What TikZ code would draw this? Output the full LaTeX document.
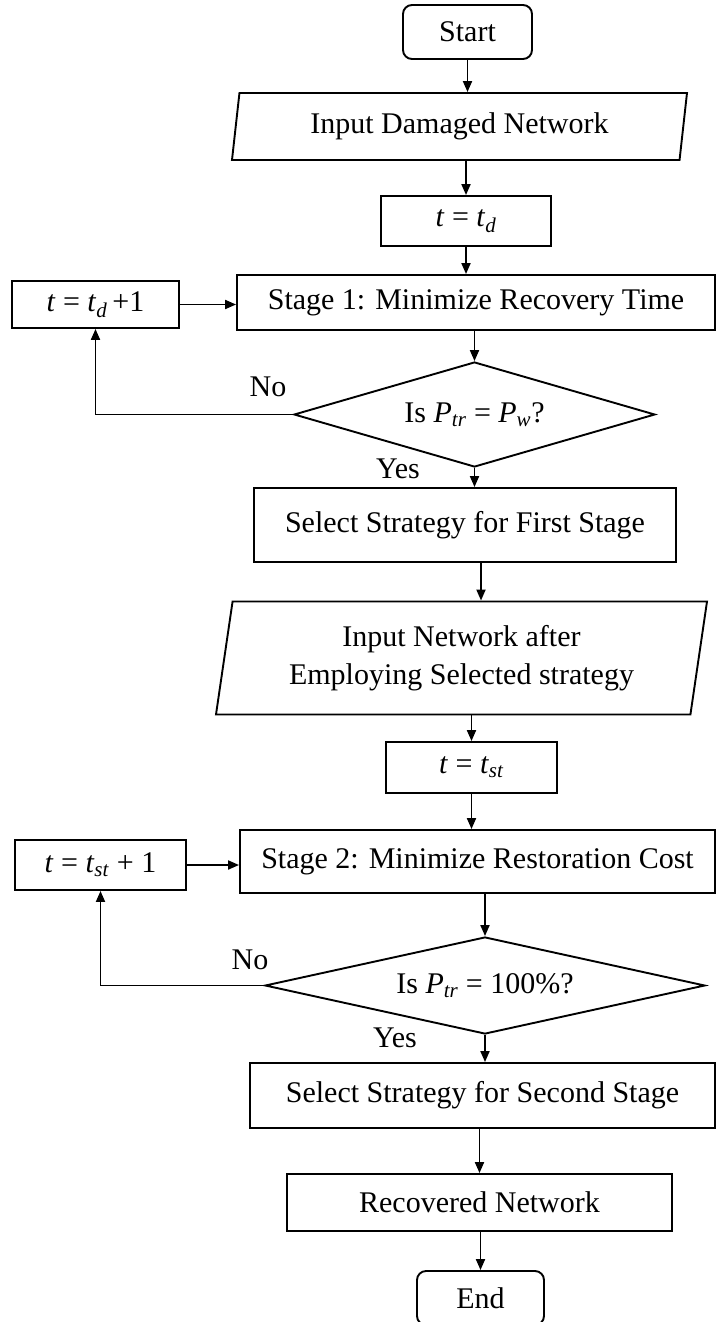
\documentclass[tikz,border=0pt]{standalone}
\usepackage{fontspec}
\setmainfont{Liberation Serif}
\usetikzlibrary{shapes.geometric,arrows.meta}
\newcommand\itv[1]{\textit{#1}}
\newcommand\ssb[1]{\textsubscript{\textit{#1}}}
\begin{document}
\begin{tikzpicture}[x=1pt,y=-1pt,
  every node/.style={font=\fontsize{30}{38}\selectfont},
  box/.style={draw,line width=1.9pt,rectangle,inner sep=2pt,align=center},
  term/.style={box,rounded corners=9pt},
  io/.style={draw,line width=1.9pt,trapezium,trapezium left angle=76.6,trapezium right angle=103.4,trapezium stretches body,inner sep=2pt,align=center},
  dec/.style={draw,line width=1.9pt,diamond,inner sep=0pt},
  lbl/.style={inner sep=0pt},
  arr/.style={line width=1.9pt,-{Triangle[length=11pt,width=9pt]}}]
\useasboundingbox (0,0) rectangle (716,1322);
\node[term,minimum width=129pt,minimum height=54pt] (start) at (467.5,32) {Start};
\node[io,minimum width=455pt,minimum height=67pt] (in1) at (459.5,126.5) {Input Damaged Network};
\node[box,minimum width=170pt,minimum height=50pt] (td) at (466,221) {\itv{t} = \itv{t}\ssb{d}};
\node[box,minimum width=478pt,minimum height=55pt] (s1) at (476,302.5) {Stage 1: Minimize Recovery Time};
\node[box,minimum width=167pt,minimum height=47pt] (tdp) at (95.5,304.5) {\itv{t} = \itv{t}\ssb{d}\,+1};
\node[dec,shape aspect=3.4,minimum width=361pt,minimum height=105pt] (d1) at (474.5,414.5) {Is \itv{P}\ssb{tr} = \itv{P}\ssb{w}?};
\node[box,minimum width=422pt,minimum height=74pt] (sel1) at (465,525) {Select Strategy for First Stage};
\node[io,minimum width=491pt,minimum height=113pt] (in2) at (461.5,658) {Input Network after\\Employing Selected strategy};
\node[box,minimum width=171pt,minimum height=51pt] (tst) at (471.5,767.5) {\itv{t} = \itv{t}\ssb{st}};
\node[box,minimum width=475pt,minimum height=63pt] (s2) at (477.5,861.5) {Stage 2: Minimize Restoration Cost};
\node[box,minimum width=171pt,minimum height=50pt] (tstp) at (100.5,865) {\itv{t} = \itv{t}\ssb{st} + 1};
\node[dec,shape aspect=4.5,minimum width=440pt,minimum height=97pt] (d2) at (485,985.5) {Is \itv{P}\ssb{tr} = 100\%?};
\node[box,minimum width=465pt,minimum height=65pt] (sel2) at (482.5,1095.5) {Select Strategy for Second Stage};
\node[box,minimum width=385pt,minimum height=57pt] (rec) at (479.5,1202.5) {Recovered Network};
\node[term,minimum width=127pt,minimum height=54pt] (end) at (480.5,1298) {End};
\node[lbl] (no1) at (268,387) {No};
\node[lbl] (yes1) at (398,469) {Yes};
\node[lbl] (no2) at (250,960) {No};
\node[lbl] (yes2) at (395,1038) {Yes};
\draw[arr] (start.south) -- (start.south |- in1.north);
\draw[arr] (td.north |- in1.south) -- (td.north);
\draw[arr] (td.south) -- (td.south |- s1.north);
\draw[arr] (tdp.east) -- (tdp.east -| s1.west);
\draw[arr] (d1.north |- s1.south) -- (d1.north);
\draw[arr] (d1.south) -- (d1.south |- sel1.north);
\draw[arr] (d1.west) -| (tdp.south);
\draw[arr] ([xshift=16pt]sel1.south) -- ([xshift=16pt]sel1.south |- in2.north);
\draw[arr] (tst.north |- in2.south) -- (tst.north);
\draw[arr] (tst.south) -- (tst.south |- s2.north);
\draw[arr] (tstp.east) -- (tstp.east -| s2.west);
\draw[arr] (d2.north |- s2.south) -- (d2.north);
\draw[arr] (d2.south) -- (d2.south |- sel2.north);
\draw[arr] (d2.west) -| (tstp.south);
\draw[arr] (rec.north |- sel2.south) -- (rec.north);
\draw[arr] (end.north |- rec.south) -- (end.north);
\end{tikzpicture}
\end{document}
